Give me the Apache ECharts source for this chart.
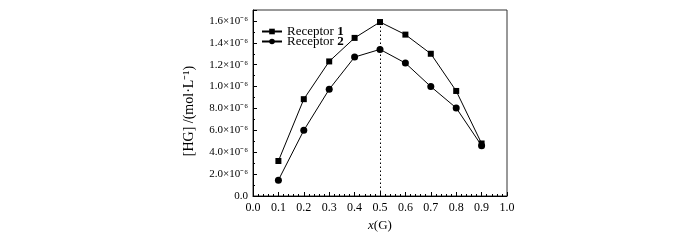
<!DOCTYPE html>
<html><head><meta charset="utf-8">
<script src="https://cdn.jsdelivr.net/npm/echarts@6/dist/echarts.min.js"></script>
<style>html,body{margin:0;padding:0;background:#fff}#c{width:700px;height:240px}</style>
</head><body><div id="c"></div>
<script>
var xValues = [0.1, 0.2, 0.3, 0.4, 0.5, 0.6, 0.7, 0.8, 0.9];
var receptor1 = [0.32, 0.885, 1.23, 1.445, 1.59, 1.475, 1.30, 0.96, 0.48];
var receptor2 = [0.145, 0.60, 0.975, 1.27, 1.34, 1.215, 1.00, 0.805, 0.46];
var yTickLabels = {'0.0':'0.0','0.2':'2.0×10⁻⁶','0.4':'4.0×10⁻⁶','0.6':'6.0×10⁻⁶','0.8':'8.0×10⁻⁶','1.0':'1.0×10⁻⁶','1.2':'1.2×10⁻⁶','1.4':'1.4×10⁻⁶','1.6':'1.6×10⁻⁶'};
var seriesNames = ['Receptor 1', 'Receptor 2'];
var peakX = 0.5, peakY = 1.59;

var font = 'Liberation Serif';
var chart = echarts.init(document.getElementById('c'));
function pairs(ys){ return xValues.map(function(x,i){return [x, ys[i]];}); }
chart.setOption({
  animation: false,
  textStyle: {fontFamily: font},
  grid: {left: 253, right: 193, top: 10, bottom: 44, show: true, borderColor: '#333', borderWidth: 1},
  legend: {
    left: 256, top: 20, orient: 'vertical', itemGap: -3, itemWidth: 20, itemHeight: 7,
    textStyle: {fontFamily: font, fontSize: 13, color: '#000', rich: {b: {fontWeight: 'bold', fontFamily: font, fontSize: 13}}},
    formatter: function(n){ var p = n.split(' '); return p[0] + ' {b|' + p[1] + '}'; },
    data: seriesNames
  },
  xAxis: {
    type: 'value', min: 0, max: 1, interval: 0.1,
    name: '{i|x}(G)', nameLocation: 'middle', nameGap: 21,
    nameTextStyle: {fontFamily: font, fontSize: 13, color: '#000', rich: {i: {fontStyle: 'italic', fontFamily: font, fontSize: 13}}},
    axisLine: {lineStyle: {color: '#000', width: 1}},
    axisTick: {inside: true, length: 4, lineStyle: {color: '#000'}},
    minorTick: {show: true, splitNumber: 5, length: 2, lineStyle: {color: '#000'}},
    splitLine: {show: false},
    axisLabel: {fontFamily: font, fontSize: 12, color: '#000', margin: 6, formatter: function(v){return v.toFixed(1);}}
  },
  yAxis: {
    type: 'value', min: 0, max: 1.7, interval: 0.2,
    name: '[HG] /(mol·L⁻¹)', nameLocation: 'middle', nameGap: 57, nameRotate: 90,
    nameTextStyle: {fontFamily: font, fontSize: 14, color: '#000', padding: [0, 16, 0, 0]},
    axisLine: {lineStyle: {color: '#000', width: 1}},
    axisTick: {inside: true, length: 4, lineStyle: {color: '#000'}},
    minorTick: {show: true, splitNumber: 2, length: 2, lineStyle: {color: '#000'}},
    splitLine: {show: false},
    axisLabel: {fontFamily: font, fontSize: 11, color: '#000', margin: 5,
      formatter: function(v){ var k = v.toFixed(1); return yTickLabels[k] || ''; }}
  },
  series: [
    {name: seriesNames[0], type: 'line', data: pairs(receptor1), symbol: 'rect', symbolSize: 6,
     lineStyle: {color: '#000', width: 1}, itemStyle: {color: '#000'},
     markLine: {silent: true, symbol: 'none', label: {show: false},
       lineStyle: {color: '#000', type: [1.5, 2.5], width: 1},
       data: [[{coord: [peakX, 0]}, {coord: [peakX, peakY]}]]}},
    {name: seriesNames[1], type: 'line', data: pairs(receptor2), symbol: 'circle', symbolSize: 7,
     lineStyle: {color: '#000', width: 1}, itemStyle: {color: '#000'}}
  ]
});
</script></body></html>
